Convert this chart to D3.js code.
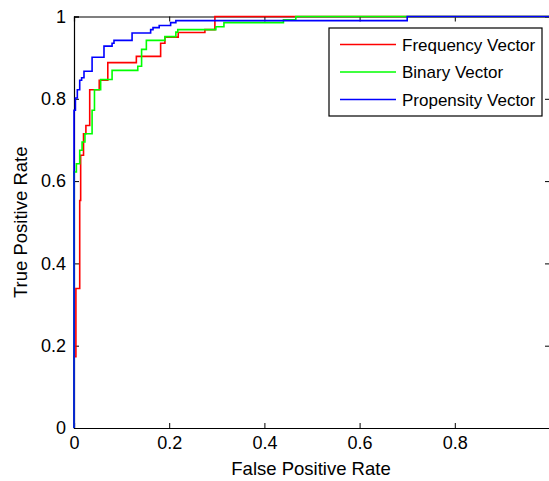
<!DOCTYPE html>
<html>
<head>
<meta charset="utf-8">
<script src="https://cdn.jsdelivr.net/npm/d3@7"></script>
<style>
  body { margin: 0; background: #fff; }
  svg { display: block; font-family: "Liberation Sans", Arial, sans-serif; }
</style>
</head>
<body>
<svg></svg>
<script>
// ROC points (fpr, tpr), drawn as stairs
const seriesNames = ['Frequency Vector', 'Binary Vector', 'Propensity Vector'];
const seriesColors = ['#ff0000', '#00ff00', '#0000ff'];

const freqFpr = [0, 0, 0.004, 0.012, 0.014, 0.020, 0.025, 0.033, 0.053, 0.071, 0.131, 0.182, 0.191, 0.219, 0.275, 0.296, 1];
const freqTpr = [0, 0.173, 0.339, 0.553, 0.663, 0.715, 0.735, 0.822, 0.845, 0.888, 0.903, 0.935, 0.950, 0.961, 0.968, 1, 1];

const binFpr = [0, 0, 0.005, 0.012, 0.017, 0.023, 0.038, 0.043, 0.056, 0.080, 0.134, 0.142, 0.152, 0.191, 0.214, 0.218, 0.298, 0.315, 0.440, 0.466, 1];
const binTpr = [0, 0.622, 0.642, 0.675, 0.695, 0.715, 0.772, 0.822, 0.847, 0.869, 0.879, 0.920, 0.942, 0.951, 0.962, 0.968, 0.975, 0.985, 0.992, 1, 1];

const propFpr = [0, 0, 0.003, 0.007, 0.012, 0.016, 0.021, 0.038, 0.063, 0.080, 0.084, 0.122, 0.161, 0.166, 0.179, 0.203, 0.214, 0.700, 1];
const propTpr = [0, 0.772, 0.802, 0.822, 0.845, 0.851, 0.867, 0.901, 0.928, 0.935, 0.942, 0.960, 0.968, 0.973, 0.978, 0.985, 0.990, 1, 1];

// the "1" on the x axis falls off the right edge of the picture, so it gets no label
const xTicks = [0, 0.2, 0.4, 0.6, 0.8, 1];
const xTickLabels = ['0', '0.2', '0.4', '0.6', '0.8', ''];
const yTicks = [0, 0.2, 0.4, 0.6, 0.8, 1];
const yTickLabels = ['0', '0.2', '0.4', '0.6', '0.8', '1'];

let width = 549;
let height = 481;
let plotLeft = 74;
let plotRight = 550;
let plotTop = 16.5;
let plotBottom = 428;

let xScale;
let yScale;

let svg = d3.select('svg');

let drawCanvas = () => {
    svg.attr('width', width)
       .attr('height', height);
};

let generateScales = () => {
    xScale = d3.scaleLinear()
                .domain([0, 1])
                .range([plotLeft, plotRight]);
    yScale = d3.scaleLinear()
                .domain([0, 1])
                .range([plotBottom, plotTop]);
};

let generateAxis = () => {
    let xAxis = d3.axisBottom(xScale).tickValues(xTicks)
        .tickFormat((d, i) => xTickLabels[i]).tickSize(-5).tickPadding(8);
    let yAxis = d3.axisLeft(yScale).tickValues(yTicks)
        .tickFormat((d, i) => yTickLabels[i]).tickSize(-5).tickPadding(8);
    let xTop = d3.axisTop(xScale).tickValues(xTicks).tickFormat('').tickSize(-5);
    let yRight = d3.axisRight(yScale).tickValues(yTicks).tickFormat('').tickSize(-5);

    let gx = svg.append('g')
        .attr('transform', 'translate(0,' + plotBottom + ')')
        .call(xAxis);
    let gy = svg.append('g')
        .attr('transform', 'translate(' + plotLeft + ',0)')
        .call(yAxis);
    let gt = svg.append('g')
        .attr('transform', 'translate(0,' + plotTop + ')')
        .call(xTop);
    let gr = svg.append('g')
        .attr('transform', 'translate(' + plotRight + ',0)')
        .call(yRight);

    [gx, gy, gt, gr].forEach((g) => {
        g.selectAll('.domain').attr('stroke', '#000').attr('stroke-width', 1.2);
        g.selectAll('.tick line').attr('stroke', '#000');
        g.selectAll('text')
            .attr('font-size', 18)
            .attr('font-family', '"Liberation Sans", Arial, sans-serif')
            .attr('fill', '#000');
    });

    svg.append('text')
        .attr('x', 311)
        .attr('y', 475)
        .attr('text-anchor', 'middle')
        .attr('font-size', 18.5)
        .text('False Positive Rate');

    svg.append('text')
        .attr('transform', 'translate(27,' + ((plotTop + plotBottom) / 2) + ') rotate(-90)')
        .attr('text-anchor', 'middle')
        .attr('font-size', 18.5)
        .text('True Positive Rate');
};

let generateLines = () => {
    let series = [
        d3.zip(freqFpr, freqTpr),
        d3.zip(binFpr, binTpr),
        d3.zip(propFpr, propTpr)
    ];

    let line = d3.line()
        .x((item) => xScale(item[0]))
        .y((item) => yScale(item[1]))
        .curve(d3.curveStepAfter);

    svg.selectAll('path.roc')
        .data(series)
        .enter()
        .append('path')
            .attr('class', 'roc')
            .attr('fill', 'none')
            .attr('stroke', (item, index) => seriesColors[index])
            .attr('stroke-width', 1.6)
            .attr('d', line);
};

let generateLegend = () => {
    let lg = svg.append('g').attr('transform', 'translate(329,28)');

    lg.append('rect')
        .attr('width', 213)
        .attr('height', 88)
        .attr('fill', '#fff')
        .attr('stroke', '#000')
        .attr('stroke-width', 1.2);

    let rows = lg.selectAll('g.row')
        .data(seriesNames)
        .enter()
        .append('g')
            .attr('class', 'row')
            .attr('transform', (item, index) => 'translate(0,' + (16.5 + index * 27.5) + ')');

    rows.append('line')
        .attr('x1', 11)
        .attr('x2', 67)
        .attr('stroke', (item, index) => seriesColors[index])
        .attr('stroke-width', 1.6);

    rows.append('text')
        .attr('x', 73)
        .attr('y', 6)
        .attr('font-size', 17)
        .text((item) => item);
};

drawCanvas();
generateScales();
generateAxis();
generateLines();
generateLegend();
</script>
</body>
</html>
